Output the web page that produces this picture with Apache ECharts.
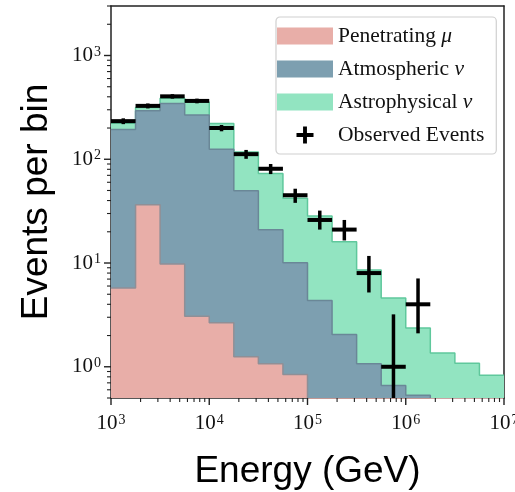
<!DOCTYPE html>
<html>
<head>
<meta charset="utf-8">
<script src="https://cdn.jsdelivr.net/npm/echarts@6/dist/echarts.min.js"></script>
<style>
  html, body { margin: 0; padding: 0; background: #fff; }
  #chart { width: 515px; height: 492px; }
</style>
</head>
<body>
<div id="chart"></div>
<script>
// energy bin edges (GeV), 4 bins per decade
const binEdges = [1e3, 1.778e3, 3.162e3, 5.623e3, 1e4, 1.778e4, 3.162e4, 5.623e4,
  1e5, 1.778e5, 3.162e5, 5.623e5, 1e6, 1.778e6, 3.162e6, 5.623e6, 1e7];

// expected events per bin, per component
const muonVals  = [5.75, 36.4, 9.8, 3.07, 2.65, 1.25, 1.07, 0.84, 0, 0, 0, 0, 0, 0, 0, 0];
const atmVals   = [188, 257, 335, 264, 122, 48.4, 19.8, 9.2, 4.34, 2.05, 1.07, 0.66, 0.53, 0, 0, 0];
const astroVals = [29, 22, 43, 89, 97, 68, 52, 32, 24, 14, 7.5, 3.95, 1.84, 1.36, 1.08, 0.83];

// observed events, with error bar ends
const obsVals = [233, 327, 404, 365, 200, 112, 81, 45, 26, 21, 8, 1, 4];
const obsLow  = [218, 309, 384, 346, 186, 101, 72, 38, 21, 16.5, 5.2, 0, 2.1];
const obsHigh = [248, 345, 424, 384, 214, 123, 90, 52, 32, 26, 11.7, 3.2, 7.1];

// axis ticks
const xMajor = [1e3, 1e4, 1e5, 1e6, 1e7];
const yMajor = [1, 10, 100, 1000];
const minorMant = [2, 3, 4, 5, 6, 7, 8, 9];

const Y_MIN = 0.5, Y_MAX = 3000;
const FLOOR = 0.01; // empty bins, drawn below the axis

const colMu = '#e8aea8', colAtm = '#7d9fb0', colAstro = '#92e4c1';

// stack components
const cumMu = muonVals.slice();
const cumAtm = muonVals.map((v, i) => v + atmVals[i]);
const cumAll = cumAtm.map((v, i) => v + astroVals[i]);

function stepData(vals) {
  const d = vals.map((v, i) => [binEdges[i], v > 0 ? v : FLOOR]);
  d.push([binEdges[binEdges.length - 1], d[d.length - 1][1]]);
  return d;
}

// tick list: [x, y, isY, isMajor]
const tickData = [];
xMajor.forEach((m, k) => {
  tickData.push([m, Y_MIN, 0, 1]);
  if (k < xMajor.length - 1) minorMant.forEach(n => tickData.push([m * n, Y_MIN, 0, 0]));
});
[0.1].concat(yMajor).forEach(m => {
  if (m >= Y_MIN) tickData.push([1e3, m, 1, 1]);
  minorMant.forEach(n => {
    const v = m * n;
    if (v >= Y_MIN - 1e-9 && v <= Y_MAX + 1e-9) tickData.push([1e3, v, 1, 0]);
  });
});

const obsData = obsVals.map((v, i) => [binEdges[i], binEdges[i + 1], v, obsLow[i], obsHigh[i]]);

function powLabel(v) {
  const e = Math.log10(v);
  if (Math.abs(e - Math.round(e)) > 1e-6) return '';
  return '10{s|' + Math.round(e) + '}';
}

const labelStyle = {
  fontFamily: 'Liberation Serif',
  fontSize: 21,
  color: '#111',
  formatter: powLabel,
  rich: {
    s: { fontFamily: 'Liberation Serif', fontSize: 14, color: '#111', verticalAlign: 'top', padding: [0, 0, 0, 1] }
  }
};

const chart = echarts.init(document.getElementById('chart'));

function histSeries(name, vals, fill, edge, z) {
  return {
    name: name,
    type: 'line',
    step: 'end',
    symbol: 'none',
    z: z,
    data: stepData(vals),
    itemStyle: { color: fill },
    lineStyle: { color: edge, width: 1.5 },
    areaStyle: { color: fill, opacity: 1, origin: 'start' },
    emphasis: { disabled: true },
    animation: false
  };
}

const option = {
  animation: false,
  grid: { left: 111, right: 11, top: 6, bottom: 94, containLabel: false, outerBoundsMode: 'none' },
  legend: {
    left: 276, top: 17,
    orient: 'vertical',
    itemWidth: 56, itemHeight: 17,
    itemGap: 9,
    padding: [7, 12, 7, 1],
    backgroundColor: '#fff',
    borderColor: '#d0d0d0',
    borderWidth: 1.2,
    borderRadius: 4,
    textStyle: {
      fontFamily: 'Liberation Serif', fontSize: 21.5, color: '#111', lineHeight: 24,
      rich: { i: { fontFamily: 'Liberation Serif', fontStyle: 'italic', fontSize: 21.5, color: '#111', lineHeight: 24 } }
    },
    formatter: function (name) {
      return name.replace('μ', '{i|μ}').replace('ν', '{i|ν}');
    },
    data: [
      { name: 'Penetrating μ', icon: 'rect', itemStyle: { color: colMu, borderWidth: 0 }, lineStyle: { width: 0 } },
      { name: 'Atmospheric ν', icon: 'rect', itemStyle: { color: colAtm, borderWidth: 0 }, lineStyle: { width: 0 } },
      { name: 'Astrophysical ν', icon: 'rect', itemStyle: { color: colAstro, borderWidth: 0 }, lineStyle: { width: 0 } },
      { name: 'Observed Events', icon: 'path://M8.5,0h5v8.5h8.5v5h-8.5v8.5h-5v-8.5h-8.5v-5h8.5z', itemStyle: { color: '#000', borderWidth: 0 } }
    ],
    selectedMode: false
  },
  xAxis: [{
    type: 'log', logBase: 10, min: 1e3, max: 1e7,
    name: 'Energy (GeV)', nameLocation: 'middle', nameGap: 55,
    nameTextStyle: { fontFamily: 'Liberation Sans', fontSize: 37, color: '#000' },
    axisLine: { show: true, lineStyle: { color: '#222', width: 1.5 } },
    axisTick: { show: false },
    axisLabel: Object.assign({ margin: 15 }, labelStyle),
    splitLine: { show: false }
  }, {
    type: 'log', logBase: 10, min: 1e3, max: 1e7, position: 'top',
    axisLine: { show: true, onZero: false, lineStyle: { color: '#222', width: 1.5 } },
    axisTick: { show: false }, axisLabel: { show: false }, splitLine: { show: false }
  }],
  yAxis: [{
    type: 'log', logBase: 10, min: Y_MIN, max: Y_MAX,
    name: 'Events per bin', nameLocation: 'middle', nameGap: 56,
    nameTextStyle: { fontFamily: 'Liberation Sans', fontSize: 37, color: '#000' },
    axisLine: { show: true, lineStyle: { color: '#222', width: 1.5 } },
    axisTick: { show: false },
    axisLabel: Object.assign({ margin: 10 }, labelStyle),
    splitLine: { show: false }
  }, {
    type: 'log', logBase: 10, min: Y_MIN, max: Y_MAX, position: 'right',
    axisLine: { show: true, onZero: false, lineStyle: { color: '#222', width: 1.5 } },
    axisTick: { show: false }, axisLabel: { show: false }, splitLine: { show: false }
  }],
  series: [
    histSeries('Astrophysical ν', cumAll, colAstro, '#5fc89c', 1),
    histSeries('Atmospheric ν', cumAtm, colAtm, '#6a8797', 2),
    histSeries('Penetrating μ', cumMu, colMu, '#8f8f96', 3),
    {
      name: 'Observed Events',
      type: 'custom',
      z: 5,
      silent: true,
      encode: { x: [0, 1], y: 2 },
      data: obsData,
      itemStyle: { color: '#000' },
      renderItem: function (params, api) {
        const xl = api.value(0), xh = api.value(1), y = api.value(2);
        const yl = api.value(3), yh = api.value(4);
        const xc = Math.sqrt(xl * xh);
        const cs = params.coordSys;
        const bottom = cs.y + cs.height;
        const pL = api.coord([xl, y]), pR = api.coord([xh, y]);
        const pT = api.coord([xc, yh]);
        const yB = yl > 0 ? Math.min(api.coord([xc, yl])[1], bottom) : bottom;
        return {
          type: 'group',
          children: [
            { type: 'line', shape: { x1: pL[0], y1: pL[1], x2: pR[0], y2: pR[1] }, style: { stroke: '#000', lineWidth: 4 } },
            { type: 'line', shape: { x1: pT[0], y1: pT[1], x2: pT[0], y2: yB }, style: { stroke: '#000', lineWidth: 3.5 } }
          ]
        };
      }
    },
    {
      type: 'custom',
      z: 6,
      silent: true,
      encode: { x: 0, y: 1 },
      data: tickData,
      renderItem: function (params, api) {
        const isY = api.value(2), major = api.value(3);
        const cs = params.coordSys;
        const p = api.coord([api.value(0), api.value(1)]);
        const len = major ? 7 : 4;
        const shape = isY
          ? { x1: cs.x - len, y1: p[1], x2: cs.x, y2: p[1] }
          : { x1: p[0], y1: cs.y + cs.height, x2: p[0], y2: cs.y + cs.height + len };
        return { type: 'line', shape: shape, style: { stroke: '#222', lineWidth: major ? 1.4 : 1.1 } };
      }
    }
  ]
};

chart.setOption(option);
</script>
</body>
</html>
